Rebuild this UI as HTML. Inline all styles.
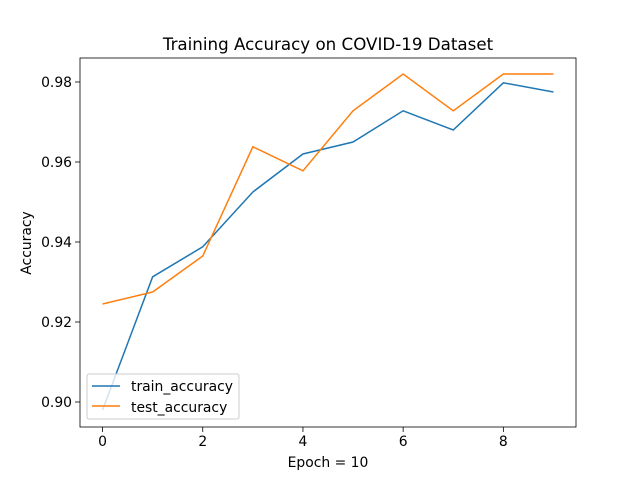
<!DOCTYPE html>
<html><head><meta charset="utf-8"><style>
body{margin:0;background:#fff}
svg text{font-family:"DejaVu Sans","Liberation Sans",sans-serif;fill:#000}
</style></head><body>
<svg id="chart" width="640" height="480" xmlns="http://www.w3.org/2000/svg">
<rect width="640" height="480" fill="#fff"/>
<g id="plot"></g>
</svg>
<script>
const epochs=[0,1,2,3,4,5,6,7,8,9];
const trainAccuracy=[0.898,0.9313,0.9388,0.9525,0.962,0.965,0.9728,0.968,0.9798,0.9775];
const testAccuracy=[0.9245,0.9275,0.9365,0.9638,0.9578,0.9728,0.982,0.9728,0.982,0.982];
const xTicks=[0,2,4,6,8];
const yTicks=[0.90,0.92,0.94,0.96,0.98];
const yTickLabels=["0.90","0.92","0.94","0.96","0.98"];
const L=80,R=576,T=58,B=427;
const xMin=-0.45,xMax=9.45,yMin=0.89375,yMax=0.986;
const sx=v=>L+(v-xMin)/(xMax-xMin)*(R-L);
const sy=v=>B-(v-yMin)/(yMax-yMin)*(B-T);
const NS="http://www.w3.org/2000/svg";
const g=document.getElementById('plot');
function mk(t,a,p){const e=document.createElementNS(NS,t);for(const k in a)e.setAttribute(k,a[k]);(p||g).appendChild(e);return e;}
xTicks.forEach(v=>{const x=sx(v);
const t=mk('line',{x1:x,x2:x,y1:B,y2:B+5,stroke:'#000','stroke-width':0.8});


const l=mk('text',{x:x,y:B+19,'font-size':13.9,'text-anchor':'middle'});l.textContent=v;

});
yTicks.forEach((v,i)=>{const y=sy(v);
const t=mk('line',{x1:L-5,x2:L,y1:y,y2:y,stroke:'#000','stroke-width':0.8});


const l=mk('text',{x:L-8,y:y+5,'font-size':13.9,'text-anchor':'end'});l.textContent=yTickLabels[i];

});
function series(vals,color,name){const p=mk('polyline',{points:epochs.map((e,i)=>sx(e)+','+sy(vals[i])).join(' '),fill:'none',stroke:color,'stroke-width':1.5});

}
series(trainAccuracy,'#1f77b4','train-accuracy-line');
series(testAccuracy,'#ff7f0e','test-accuracy-line');
const fr=mk('rect',{x:L,y:T,width:R-L,height:B-T,fill:'none',stroke:'#000','stroke-width':0.8});


</script>
<svg style="position:absolute;left:0;top:0" width="640" height="480">
<text x="328" y="50" font-size="16.7" text-anchor="middle">Training Accuracy on COVID-19 Dataset</text>
<text x="328" y="467" font-size="13.9" text-anchor="middle">Epoch = 10</text>
<text x="31" y="243" font-size="13.9" text-anchor="middle" transform="rotate(-90 31 243)">Accuracy</text>
<g>
<rect x="87" y="374" width="152" height="45" rx="2" fill="#fff" fill-opacity="0.8" stroke="#ccc"/>
<line x1="92" x2="120" y1="386" y2="386" stroke="#1f77b4" stroke-width="1.5"/>
<text x="131" y="391" font-size="13.9">train_accuracy</text>
<line x1="92" x2="120" y1="406" y2="406" stroke="#ff7f0e" stroke-width="1.5"/>
<text x="131" y="412" font-size="13.9">test_accuracy</text>
</g>
</svg>
</body></html>
